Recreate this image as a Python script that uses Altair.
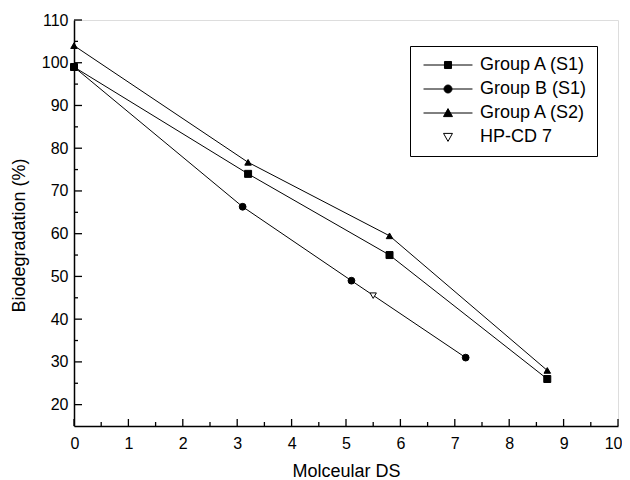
import altair as alt
import pandas as pd

# ---- data ----
series_names = ["Group A (S1)", "Group B (S1)", "Group A (S2)", "HP-CD 7"]
a1_ds = [0, 3.2, 5.8, 8.7]
a1_bio = [99, 74, 55, 26]
b1_ds = [0, 3.1, 5.1, 7.2]
b1_bio = [99, 66.3, 49, 31]
a2_ds = [0, 3.2, 5.8, 8.7]
a2_bio = [104, 76.7, 59.5, 28]
hp_ds = [5.5]
hp_bio = [45.5]

x_major_ticks = [0, 1, 2, 3, 4, 5, 6, 7, 8, 9, 10]
x_minor_ticks = [0.5, 1.5, 2.5, 3.5, 4.5, 5.5, 6.5, 7.5, 8.5, 9.5]
y_major_ticks = [20, 30, 40, 50, 60, 70, 80, 90, 100, 110]
y_minor_ticks = [25, 35, 45, 55, 65, 75, 85, 95, 105]

rows = []
for name, xs_, ys_ in zip(series_names, [a1_ds, b1_ds, a2_ds, hp_ds], [a1_bio, b1_bio, a2_bio, hp_bio]):
    for i, (xv, yv) in enumerate(zip(xs_, ys_)):
        rows.append({"series": name, "ds": xv, "bio": yv, "order": i})
df = pd.DataFrame(rows)

W, H = 544, 406
FONT = "Liberation Sans"

xs = alt.Scale(domain=[0, 10], nice=False, zero=False)
ys = alt.Scale(domain=[15, 110], nice=False, zero=False)

marker_shapes = ["square", "circle", "triangle-up", "triangle-down"]
marker_fills = ["black", "black", "black", "white"]
marker_strokes = ["black", "black", "black", "black"]
marker_sizes = [49, 40, 81, 81]

legend_paths = [
    "M-0.685,0H5.435M1.935,-0.44H2.815V0.44H1.935Z",
    "M-0.685,0H5.435M1.875,0A0.5,0.5,0,1,0,2.875,0A0.5,0.5,0,1,0,1.875,0Z",
    "M-0.685,0H5.435M2.375,-0.55L2.935,0.45L1.815,0.45Z",
    "M1.815,-0.45L2.935,-0.45L2.375,0.55Z",
]

x_axis = alt.Axis(
    orient="bottom", values=x_major_ticks, format="d",
    ticks=False, tickSize=0, labelPadding=9, labelFlush=True, labelFlushOffset=4,
    labelFontSize=16, labelColor="black", labelFont=FONT,
    title="Molceular DS", titleFontSize=18, titleFontWeight="normal", titleFont=FONT,
    titleColor="black", titlePadding=11, domainColor="black", domainWidth=1.5, grid=False,
)
y_axis = alt.Axis(
    orient="left", values=y_major_ticks, format="d",
    ticks=False, tickSize=0, labelPadding=6, labelFlush=False,
    labelFontSize=16, labelColor="black", labelFont=FONT,
    title="Biodegradation (%)", titleFontSize=18, titleFontWeight="normal", titleFont=FONT,
    titleColor="black", titlePadding=13, titleY=215, domainColor="black", domainWidth=1.5, grid=False,
)

X = alt.X("ds:Q", scale=xs, axis=x_axis)
Y = alt.Y("bio:Q", scale=ys, axis=y_axis)

lines = alt.Chart(df).transform_filter(alt.datum.series != "HP-CD 7").mark_line(
    color="black", strokeWidth=1
).encode(x=X, y=Y, detail="series:N", order="order:Q")

points = alt.Chart(df).mark_point(filled=True, stroke="black", strokeWidth=1, opacity=1).encode(
    x=X, y=Y,
    shape=alt.Shape("series:N", scale=alt.Scale(domain=series_names, range=marker_shapes), legend=None),
    fill=alt.Fill("series:N", scale=alt.Scale(domain=series_names, range=marker_fills), legend=None),
    size=alt.Size("series:N", scale=alt.Scale(domain=series_names, range=marker_sizes), legend=None),
)

leg = alt.Legend(
    title=None, orient="none", legendX=336, legendY=26, padding=10,
    strokeColor="black", fillColor="white",
    labelFontSize=18, labelFont=FONT, labelColor="black", labelOffset=42,
    rowPadding=6, symbolSize=256, symbolStrokeWidth=1,
)

legend_layer = alt.Chart(df).transform_filter("false").mark_point(
    filled=True, strokeWidth=1, size=256, opacity=1
).encode(
    x=X, y=Y,
    shape=alt.Shape("series:N", scale=alt.Scale(domain=series_names, range=legend_paths), legend=leg),
    fill=alt.Fill("series:N", scale=alt.Scale(domain=series_names, range=marker_fills), legend=leg),
    stroke=alt.Stroke("series:N", scale=alt.Scale(domain=series_names, range=marker_strokes), legend=leg),
)

# inward-pointing axis ticks (major and minor) placed through the x / y scales
def x_tick_layer(values, length):
    return alt.Chart(pd.DataFrame({"ds": values})).mark_rule(color="black", strokeWidth=1.3).encode(
        x=X, y=alt.value(H), y2=alt.value(H - length)
    )


def y_tick_layer(values, length):
    return alt.Chart(pd.DataFrame({"bio": values})).mark_rule(color="black", strokeWidth=1.3).encode(
        y=Y, x=alt.value(0), x2=alt.value(length)
    )


ticks = [
    x_tick_layer(x_major_ticks, 7),
    x_tick_layer(x_minor_ticks, 4),
    y_tick_layer(y_major_ticks, 8),
    y_tick_layer(y_minor_ticks, 4),
]

chart = alt.layer(lines, points, legend_layer, *ticks).resolve_scale(
    shape="independent", fill="independent", size="independent", stroke="independent"
).properties(
    width=W, height=H,
    padding={"left": 66, "top": 12, "right": 4, "bottom": 54},
    autosize=alt.AutoSizeParams(type="none"),
).configure_view(stroke=None).configure(font=FONT)

chart.save("out.html", embed_options={"renderer": "svg", "actions": False})
